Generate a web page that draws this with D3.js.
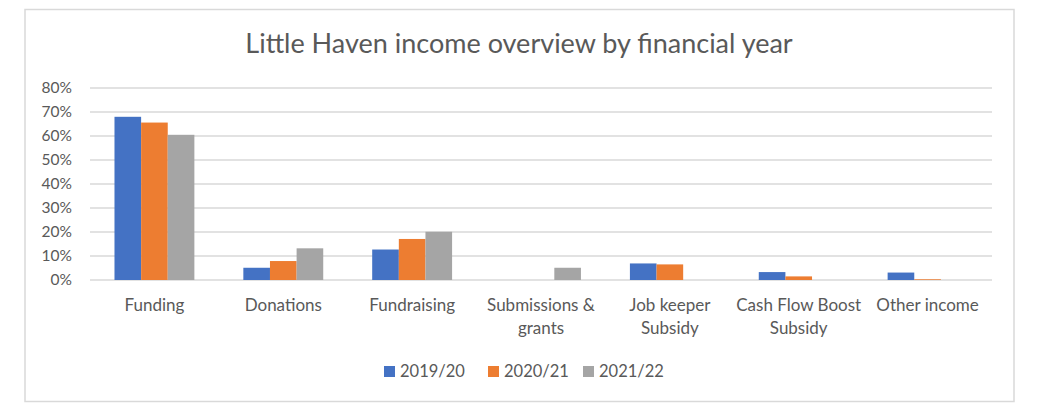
<!DOCTYPE html>
<html>
<head>
<meta charset="utf-8">
<script src="https://cdn.jsdelivr.net/npm/d3@7"></script>
<style>
  body { margin: 0; background: #fff; }
  svg text { font-family: Lato, "Open Sans", sans-serif; fill: #595959; }
</style>
</head>
<body>
<svg id="chart" width="1039" height="410"></svg>
<script>
const categories = ["Funding", "Donations", "Fundraising", "Submissions & grants", "Job keeper Subsidy", "Cash Flow Boost Subsidy", "Other income"];
const categoryLines = [["Funding"], ["Donations"], ["Fundraising"], ["Submissions &", "grants"], ["Job keeper", "Subsidy"], ["Cash Flow Boost", "Subsidy"], ["Other income"]];
const seriesNames = ["2019/20", "2020/21", "2021/22"];
const values2019 = [68.0, 5.1, 12.7, 0, 6.9, 3.3, 3.1];
const values2020 = [65.6, 7.9, 17.1, 0, 6.5, 1.5, 0.3];
const values2021 = [60.5, 13.2, 20.1, 5.1, 0, 0, 0];
const yTicks = [0, 10, 20, 30, 40, 50, 60, 70, 80];
const colors = ["#4472C4", "#ED7D31", "#A5A5A5"];

const seriesValues = [values2019, values2020, values2021];
const rows = categories.map((c, i) => ({
    cat: c,
    vals: seriesNames.map((s, j) => ({ name: s, value: seriesValues[j][i], color: colors[j] }))
}));

const svg = d3.select("#chart");

// outer frame
svg.append("rect")
    .attr("x", 25).attr("y", 9.5)
    .attr("width", 989).attr("height", 392)
    .attr("fill", "#fff")
    .attr("stroke", "#d9d9d9")
    .attr("stroke-width", 1.5);

svg.append("text")
    .attr("x", 519).attr("y", 53)
    .attr("text-anchor", "middle")
    .style("font-size", "27px")
    .text("Little Haven income overview by financial year");

const xScale = d3.scaleBand()
    .domain(categories)
    .range([90, 992])
    .paddingInner(0.38)
    .paddingOuter(0.19);

const x1 = d3.scaleBand()
    .domain(seriesNames)
    .range([0, xScale.bandwidth()]);

const yScale = d3.scaleLinear()
    .domain([0, 80])
    .range([280, 88]);

// gridlines
svg.append("g")
    .selectAll("line")
    .data(yTicks)
    .join("line")
    .attr("x1", 90).attr("x2", 992)
    .attr("y1", d => yScale(d)).attr("y2", d => yScale(d))
    .attr("stroke", "#d9d9d9")
    .attr("stroke-width", 1.3);

// y axis labels
const yAxis = svg.append("g")
    .attr("transform", "translate(90,0)")
    .call(d3.axisLeft(yScale).tickValues(yTicks).tickFormat(d => d + "%").tickSize(0).tickPadding(18));
yAxis.select(".domain").remove();
yAxis.selectAll("text").style("font-size", "15.5px").attr("font-family", null);

// bars
svg.append("g")
    .selectAll("g")
    .data(rows)
    .join("g")
    .attr("transform", d => `translate(${xScale(d.cat)},0)`)
    .selectAll("rect")
    .data(d => d.vals)
    .join("rect")
    .attr("x", d => x1(d.name))
    .attr("y", d => yScale(d.value))
    .attr("width", x1.bandwidth())
    .attr("height", d => yScale(0) - yScale(d.value))
    .attr("fill", d => d.color);

// x axis labels
const xAxis = svg.append("g")
    .attr("transform", "translate(0,280)")
    .call(d3.axisBottom(xScale).tickSize(0).tickPadding(0).tickFormat(""));
xAxis.select(".domain").remove();
xAxis.selectAll(".tick").each(function (d, i) {
    const t = d3.select(this).append("text")
        .attr("text-anchor", "middle")
        .style("font-size", "17px");
    categoryLines[i].forEach((line, k) => {
        t.append("tspan").attr("x", 0).attr("y", 31 + k * 23).text(line);
    });
});

// legend
const legendX = [384, 488, 583];
const legend = svg.append("g")
    .selectAll("g")
    .data(seriesNames)
    .join("g")
    .attr("transform", (d, i) => `translate(${legendX[i]},366)`);
legend.append("rect")
    .attr("width", 11).attr("height", 11)
    .attr("fill", (d, i) => colors[i]);
legend.append("text")
    .attr("x", 16).attr("y", 11)
    .style("font-size", "16.5px")
    .text(d => d);
</script>
</body>
</html>
